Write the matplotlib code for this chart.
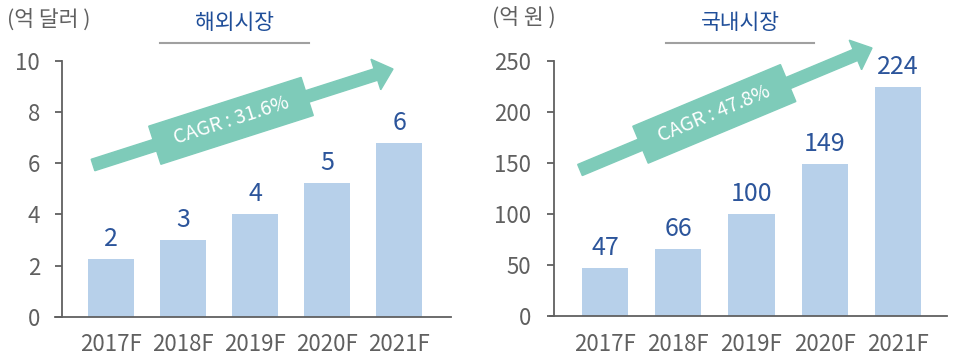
import numpy as np
import matplotlib
matplotlib.use('Agg')
import matplotlib.pyplot as plt
from matplotlib.patches import Polygon
from matplotlib.lines import Line2D

plt.rcParams['font.family'] = ['Noto Sans CJK KR', 'DejaVu Sans']

years = ['2017F', '2018F', '2019F', '2020F', '2021F']
overseas = [2.26, 3.00, 4.00, 5.24, 6.78]     # 억 달러
domestic = [47, 66, 100, 149, 224]             # 억 원
overseas_cagr = 'CAGR : 31.6%'
domestic_cagr = 'CAGR : 47.8%'

W, H = 958, 356
bar_c = '#b7d0ea'
val_c = '#2c559b'
title_c = '#1f4e99'
grey = '#606060'
teal = '#7ecbb9'

fig = plt.figure(figsize=(W / 100, H / 100), dpi=100)


def px(x, y):
    return (x / W, 1 - y / H)


def draw_panel(rect, vals, ymax, step, xlo, spine_x, xhi, fmt):
    ax = fig.add_axes(rect)
    x = np.arange(len(years))
    ax.bar(x, vals, width=0.63, color=bar_c, zorder=2)
    for xi, v in zip(x, vals):
        ax.annotate(fmt(v), (xi, v), xytext=(0, 5), textcoords='offset points',
                    ha='center', va='bottom', fontsize=18, color=val_c)
    ax.set_xlim(xlo, xhi)
    ax.set_ylim(0, ymax)
    ax.set_yticks(np.arange(0, ymax + step, step))
    ax.set_xticks(x)
    ax.set_xticklabels(years)
    for s in ['top', 'right']:
        ax.spines[s].set_visible(False)
    ax.spines['left'].set_position(('data', spine_x))
    ax.spines['left'].set_bounds(0, ymax)
    ax.spines['left'].set_color(grey)
    ax.spines['bottom'].set_color(grey)
    ax.spines['left'].set_linewidth(1.3)
    ax.spines['bottom'].set_linewidth(1.3)
    ax.tick_params(axis='y', length=5, width=1.3, color=grey, pad=11,
                   labelsize=16, labelcolor=grey)
    ax.tick_params(axis='x', length=0, pad=12, labelsize=16, labelcolor=grey)
    for lab in ax.get_xticklabels() + ax.get_yticklabels():
        lab.set_fontweight('light')
    return ax


def cagr_arrow(tail, tip, text):
    tail = np.array(tail, float)
    tip = np.array(tip, float)
    d = tip - tail
    u = d / np.hypot(*d)
    n = np.array([-u[1], u[0]])
    base = tip - u * 18
    pts = [tail + n * 6, base + n * 6, base + n * 16, tip,
           base - n * 16, base - n * 6, tail - n * 6]
    fig.patches.append(Polygon([px(*p) for p in pts], closed=True, color=teal,
                               transform=fig.transFigure, zorder=3))
    c = tail + d * 0.46
    box = [c - u * 80 - n * 20, c + u * 80 - n * 20,
           c + u * 80 + n * 20, c - u * 80 + n * 20]
    fig.patches.append(Polygon([px(*p) for p in box], closed=True, color=teal,
                               transform=fig.transFigure, zorder=3))
    ang = np.degrees(np.arctan2(-d[1], d[0]))
    fig.text(*px(*c), text, rotation=ang, rotation_mode='anchor',
             ha='center', va='center', fontsize=14, color='white',
             fontweight='light', zorder=4)


draw_panel([55 / W, 39.3 / H, 396 / W, 255.7 / H], overseas, 10, 2,
           -0.78, -0.68, 4.72, lambda v: '%d' % int(v))
draw_panel([550 / W, 40 / H, 397 / W, 255.3 / H], domestic, 250, 50,
           -0.75, -0.70, 4.67, lambda v: '%d' % v)

# unit labels and panel titles
fig.text(*px(7, 20), '(억 달러 )', fontsize=15.5, color=grey, ha='left', va='center',
         fontweight='light')
fig.text(*px(492, 18), '(억 원 )', fontsize=15.5, color=grey, ha='left', va='center',
         fontweight='light')
fig.text(*px(235, 23), '해외시장', fontsize=15.5, color=title_c, ha='center', va='center')
fig.text(*px(740, 23), '국내시장', fontsize=15.5, color=title_c, ha='center', va='center')
for x0, x1 in [(160, 309), (666, 814)]:
    a, b = px(x0, 43), px(x1, 43)
    fig.lines.append(Line2D([a[0], b[0]], [a[1], b[1]], color='#a0a0a0',
                            lw=1.5, transform=fig.transFigure))

cagr_arrow((93, 165), (393, 69), overseas_cagr)
cagr_arrow((580, 170), (872, 48), domestic_cagr)

fig.savefig('out.png', dpi=100)
